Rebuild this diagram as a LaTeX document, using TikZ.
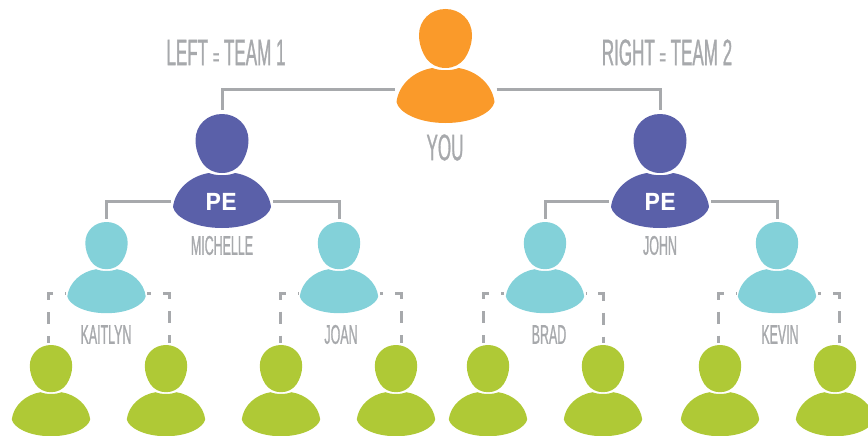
\documentclass[tikz,border=0pt]{standalone}
\usepackage{fontspec}
\newfontfamily\labelfont[FakeStretch=0.46,FakeBold=0.8]{Liberation Sans}
\newfontfamily\badgefont{TeX Gyre Heros}
\definecolor{youorange}{HTML}{FA9A2A}
\definecolor{pepurple}{HTML}{5A60A9}
\definecolor{teamcyan}{HTML}{83D1D9}
\definecolor{leafgreen}{HTML}{AFC936}
\definecolor{linegray}{HTML}{A7A9AC}
\tikzset{
  pics/person/.style={code={
    \path[pic actions] (13,59) .. controls (6,62) and (-6,62) .. (-13,59)
      .. controls (-32,62) and (-47,76) .. (-49,93)
      .. controls (-47,103) and (-28,114) .. (0,114)
      .. controls (28,114) and (47,103) .. (49,93)
      .. controls (47,76) and (32,62) .. (13,59) -- cycle;
    \path[pic actions] (0,0) .. controls (14.6,0) and (26.5,11) .. (26.5,26)
      .. controls (26.5,34) and (24,42) .. (19.5,49)
      .. controls (15,55.5) and (8,59) .. (0,59)
      .. controls (-8,59) and (-15,55.5) .. (-19.5,49)
      .. controls (-24,42) and (-26.5,34) .. (-26.5,26)
      .. controls (-26.5,11) and (-14.6,0) .. (0,0) -- cycle;
    \coordinate (-left) at (-51,#1);
    \coordinate (-right) at (51,#1);
    \coordinate (-top) at (0,-4);
  }},
  link/.style={line width=3pt,linegray},
  dashlink/.style={link,dash pattern=on 12pt off 12pt},
  biglabel/.style={inner sep=0pt,linegray,font=\labelfont\fontsize{37}{37}\selectfont},
  namelabel/.style={inner sep=0pt,linegray,font=\labelfont\fontsize{27}{27}\selectfont},
  badge/.style={inner sep=0pt,white,font=\badgefont\bfseries\fontsize{23.5}{23.5}\selectfont}
}
\begin{document}
\begin{tikzpicture}[x=1pt,y=-1pt]
\useasboundingbox (0,0) rectangle (868,436);
\pic[fill=youorange] (you) at (445.5,9) {person=81};
\pic[fill=pepurple] (michelle) at (222,114) {person=87};
\pic[fill=pepurple] (john) at (660,114) {person=87};
\pic[scale=.8,fill=teamcyan] (kaitlyn) at (106.5,222) {person=89};
\pic[scale=.8,fill=teamcyan] (joan) at (339,222) {person=89};
\pic[scale=.8,fill=teamcyan] (brad) at (545,222) {person=89};
\pic[scale=.8,fill=teamcyan] (kevin) at (777,222) {person=89};
\pic[scale=.8,fill=leafgreen] (leafa) at (51,345) {person=89};
\pic[scale=.8,fill=leafgreen] (leafb) at (166,345) {person=89};
\pic[scale=.8,fill=leafgreen] (leafc) at (281,345) {person=89};
\pic[scale=.8,fill=leafgreen] (leafd) at (396,345) {person=89};
\pic[scale=.8,fill=leafgreen] (leafe) at (488,345) {person=89};
\pic[scale=.8,fill=leafgreen] (leaff) at (603,345) {person=89};
\pic[scale=.8,fill=leafgreen] (leafg) at (720,345) {person=89};
\pic[scale=.8,fill=leafgreen] (leafh) at (835,345) {person=89};
\coordinate (dropa) at (48,343);
\coordinate (dropb) at (169,343);
\coordinate (dropc) at (280,343);
\coordinate (dropd) at (401,343);
\coordinate (drope) at (483,343);
\coordinate (dropf) at (603,343);
\coordinate (dropg) at (718,343);
\coordinate (droph) at (839,343);
\path[draw,link] (you-left) -| (michelle-top);
\path[draw,link] (you-right) -| (john-top);
\path[draw,link] (michelle-left) -| (kaitlyn-top);
\path[draw,link] (michelle-right) -| (joan-top);
\path[draw,link] (john-left) -| (brad-top);
\path[draw,link] (john-right) -| (kevin-top);
\path[draw,dashlink,dash phase=11.5pt] (kaitlyn-left) -| (dropa);
\path[draw,dashlink,dash phase=8.3pt] (kaitlyn-right) -| (dropb);
\path[draw,dashlink,dash phase=11.5pt] (joan-left) -| (dropc);
\path[draw,dashlink,dash phase=8.8pt] (joan-right) -| (dropd);
\path[draw,dashlink,dash phase=8.8pt] (brad-left) -| (drope);
\path[draw,dashlink,dash phase=11.5pt] (brad-right) -| (dropf);
\path[draw,dashlink,dash phase=11.5pt] (kevin-left) -| (dropg);
\path[draw,dashlink,dash phase=8.8pt] (kevin-right) -| (droph);
\node[biglabel] (teamone) at (226,52.5) {LEFT {\fontsize{24}{24}\selectfont=} TEAM 1};
\node[biglabel] (teamtwo) at (667,52.5) {RIGHT {\fontsize{24}{24}\selectfont=} TEAM 2};
\node[biglabel] (youname) at (445,147.5) {YOU};
\node[namelabel] (michellename) at (222,245.5) {MICHELLE};
\node[namelabel] (johnname) at (660,245.5) {JOHN};
\node[namelabel] (kaitlynname) at (106,334.5) {KAITLYN};
\node[namelabel] (joanname) at (341,334.5) {JOAN};
\node[namelabel] (bradname) at (549,334.5) {BRAD};
\node[namelabel] (kevinname) at (780,334.5) {KEVIN};
\node[badge] (michellepe) at (221,202) {PE};
\node[badge] (johnpe) at (660,202) {PE};
\end{tikzpicture}
\end{document}
